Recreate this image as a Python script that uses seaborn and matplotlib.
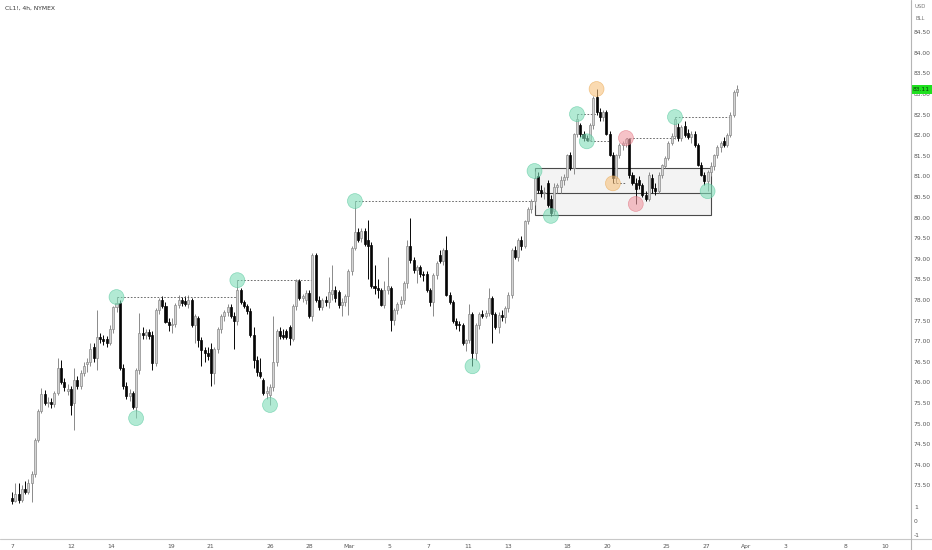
import numpy as np
import pandas as pd
import seaborn as sns
import matplotlib.pyplot as plt
from matplotlib.patches import Rectangle
from matplotlib.lines import Line2D
import matplotlib.transforms as mtransforms

# 1. Candle data (CL1!, 4h), one value per bar
opens = [73.20, 73.12, 73.30, 73.15, 73.42, 73.35, 73.55, 73.78, 74.60, 75.30,
         75.72, 75.50, 75.52, 75.48, 75.74, 76.35, 76.02, 75.80, 75.85,
         75.50, 76.06, 75.90, 76.23, 76.45, 76.50, 76.85, 76.58, 77.10,
         77.05, 77.05, 76.95, 77.30, 77.82, 77.92, 76.35, 75.92, 75.68, 75.75,
         75.40, 76.30, 77.20, 77.15, 77.22, 77.15, 76.48, 77.76, 78.00, 77.85,
         77.47, 77.40, 77.42, 77.88, 78.00, 77.98, 77.90, 78.00, 77.40,
         77.55, 77.03, 76.78, 76.70, 76.80, 76.22, 76.80, 77.30, 77.60, 77.70,
         77.82, 77.62, 77.50, 78.25, 77.95, 77.85, 77.72, 77.15, 76.55, 76.25,
         76.05, 75.75, 75.70, 75.88, 76.50, 77.25, 77.15, 77.25, 77.35, 77.05,
         77.85, 78.45, 78.05, 78.00, 78.18, 77.60, 79.10, 78.00, 77.82, 78.00,
         77.95, 78.15, 78.25, 78.20, 77.88, 77.95, 78.10, 78.70, 79.27, 79.65,
         79.50, 79.68, 79.45, 79.33, 78.33, 78.30, 78.25, 77.88, 78.25, 78.30,
         77.52, 77.75, 77.90, 78.00, 78.40, 79.30, 78.97, 78.72, 78.80, 78.62, 78.62,
         78.25, 77.95, 78.60, 79.10, 78.95, 79.20, 78.12, 77.95, 77.50, 77.40, 77.40,
         76.95, 77.02, 77.66, 76.70, 77.40, 77.66, 77.62, 77.68, 78.05, 77.66,
         77.35, 77.63, 77.58, 77.80, 78.12, 79.21, 79.05, 79.46, 79.30, 79.92,
         80.20, 80.40, 81.00, 80.67, 80.60, 80.85, 80.45, 80.15, 80.75, 80.75,
         80.91, 80.98, 81.52, 81.20, 82.02, 82.25, 82.02, 81.92, 81.88, 82.25,
         82.93, 82.55, 82.45, 82.55, 82.03, 81.52, 80.95, 81.52, 81.76, 81.80,
         81.90, 81.03, 80.85, 80.90, 80.78, 80.55, 80.45, 80.95, 80.72, 80.65,
         81.03, 81.25, 81.45, 81.82, 81.98, 82.20, 81.92, 82.22, 82.05, 81.95,
         82.02, 81.76, 81.28, 81.03, 80.88, 81.10, 81.25, 81.52, 81.70, 81.85,
         81.76, 82.00, 82.50, 83.05]
highs = [73.35, 73.55, 73.55, 73.50, 73.60, 73.65, 73.85, 74.65, 75.35, 75.86,
         75.82, 75.65, 75.62, 75.80, 76.59, 76.55, 76.10, 75.95, 75.90,
         76.35, 76.15, 76.30, 76.50, 76.60, 76.95, 76.95, 77.75, 77.20,
         77.15, 77.12, 77.40, 77.85, 78.07, 78.00, 76.45, 76.00, 75.85, 75.80,
         76.35, 77.68, 77.35, 77.30, 77.30, 77.25, 77.80, 78.05, 78.10, 77.95,
         77.55, 77.55, 77.92, 78.12, 78.08, 78.10, 78.12, 78.05, 77.65,
         77.60, 77.10, 76.85, 76.85, 76.95, 76.85, 77.35, 77.65, 77.75, 77.90,
         77.90, 77.70, 78.48, 78.30, 78.00, 77.90, 77.80, 77.35, 76.65, 76.60,
         76.10, 75.90, 75.95, 77.60, 77.30, 77.35, 77.30, 77.30, 77.40, 77.90,
         78.50, 78.50, 78.15, 78.25, 78.25, 79.15, 79.15, 78.10, 78.05, 78.10,
         78.55, 78.85, 78.35, 78.25, 78.05, 78.15, 78.75, 79.30, 80.40, 79.75,
         79.75, 79.75, 79.95, 79.40, 78.85, 78.50, 78.30, 78.45, 79.05, 78.35,
         77.80, 77.95, 78.10, 78.45, 79.45, 80.00, 79.05, 78.85, 78.85, 78.70, 78.70,
         78.30, 78.65, 78.95, 79.20, 79.25, 79.55, 78.20, 78.00, 77.55, 77.50, 77.45,
         77.05, 77.90, 77.70, 77.45, 77.70, 77.75, 77.75, 78.30, 78.10, 77.70,
         77.70, 77.75, 77.85, 78.20, 79.25, 79.30, 79.50, 79.55, 79.95, 80.25,
         80.45, 81.13, 81.10, 80.80, 80.75, 80.90, 80.55, 80.85, 80.85, 81.00,
         81.05, 81.55, 81.60, 82.05, 82.51, 82.30, 82.10, 82.00, 82.30, 82.95,
         83.12, 82.65, 82.60, 82.62, 82.10, 81.60, 81.55, 81.80, 81.85, 81.93,
         81.93, 81.10, 80.95, 81.00, 80.85, 80.65, 81.10, 81.05, 80.85, 81.10,
         81.30, 81.50, 81.85, 82.05, 82.44, 82.30, 82.25, 82.35, 82.15, 82.10,
         82.10, 81.80, 81.35, 81.10, 81.15, 81.35, 81.55, 81.75, 81.85, 81.95,
         82.05, 82.55, 83.10, 83.22]
lows = [73.05, 73.10, 73.08, 73.10, 73.30, 73.30, 73.10, 73.70, 74.55, 75.25,
        75.45, 75.40, 75.38, 75.40, 75.70, 75.95, 75.80, 75.70, 75.20,
        74.84, 75.85, 75.85, 76.15, 76.25, 76.40, 76.50, 76.30, 76.95,
        76.90, 76.85, 76.90, 77.20, 77.70, 76.30, 75.85, 75.60, 75.55, 75.35,
        75.13, 76.20, 77.05, 77.05, 77.05, 76.30, 76.40, 77.65, 77.80, 77.45,
        77.25, 77.20, 77.35, 77.80, 77.85, 77.85, 77.80, 77.35, 76.95,
        76.85, 76.40, 76.50, 76.55, 75.90, 75.96, 76.70, 77.20, 77.50, 77.60,
        77.55, 76.80, 77.40, 77.90, 77.80, 77.65, 77.10, 76.35, 76.15, 76.10,
        75.70, 75.60, 75.45, 75.80, 76.40, 77.05, 77.05, 77.05, 76.90, 77.00,
        77.75, 78.00, 77.95, 77.90, 77.55, 77.50, 77.95, 77.75, 77.75, 77.85,
        77.80, 78.00, 77.95, 77.80, 77.60, 77.85, 77.63, 78.60, 79.20, 79.40,
        79.40, 79.30, 78.50, 78.30, 78.15, 78.05, 77.85, 77.80, 78.15, 77.25,
        77.40, 77.65, 77.80, 77.90, 78.30, 78.90, 78.65, 78.40, 78.55, 78.45, 78.20,
        77.85, 77.60, 78.50, 78.90, 78.85, 78.10, 77.90, 77.45, 77.30, 77.25, 76.90,
        76.75, 76.95, 76.39, 76.55, 77.30, 77.55, 77.55, 77.60, 76.95, 77.30,
        77.20, 77.50, 77.45, 77.70, 78.05, 79.00, 78.95, 79.20, 79.25, 79.85,
        80.10, 80.30, 80.60, 80.50, 80.45, 80.25, 80.04, 80.05, 80.60, 80.60,
        80.80, 80.90, 81.15, 81.05, 81.95, 81.95, 81.85, 81.85, 81.85, 82.15,
        82.50, 82.35, 82.35, 82.00, 81.50, 80.83, 80.85, 81.45, 81.65, 81.70,
        80.95, 80.80, 80.33, 80.70, 80.50, 80.40, 80.40, 80.60, 80.55, 80.60,
        80.95, 81.20, 81.40, 81.75, 81.90, 81.85, 81.85, 81.95, 81.90, 81.80,
        81.72, 81.25, 81.00, 80.80, 80.64, 81.00, 81.15, 81.45, 81.60, 81.70,
        81.70, 81.95, 82.45, 82.95]
closes = [73.12, 73.30, 73.15, 73.42, 73.35, 73.55, 73.78, 74.60, 75.30, 75.72,
          75.50, 75.52, 75.48, 75.74, 76.35, 76.02, 75.88, 75.85, 75.45,
          76.06, 75.90, 76.23, 76.40, 76.50, 76.82, 76.58, 77.10, 77.05,
          77.00, 76.95, 77.30, 77.82, 77.92, 76.35, 75.92, 75.68, 75.75, 75.40,
          76.30, 77.20, 77.15, 77.22, 77.12, 76.48, 77.76, 78.00, 77.85, 77.47,
          77.40, 77.42, 77.88, 78.00, 77.92, 77.90, 78.00, 77.40, 77.60,
          77.03, 76.78, 76.70, 76.65, 76.22, 76.80, 77.30, 77.60, 77.70, 77.82,
          77.62, 77.50, 78.25, 77.95, 77.85, 77.72, 77.15, 76.55, 76.25, 76.15,
          75.75, 75.80, 75.88, 76.50, 77.25, 77.12, 77.10, 77.10, 77.08, 77.85,
          78.45, 78.05, 78.10, 78.18, 77.60, 79.10, 78.00, 77.82, 78.00, 77.95,
          78.20, 78.25, 78.05, 77.88, 77.95, 78.10, 78.70, 79.27, 79.65, 79.45,
          79.68, 79.35, 79.30, 78.33, 78.30, 78.25, 77.88, 78.25, 78.33, 77.52,
          77.75, 77.90, 78.00, 78.40, 79.30, 78.97, 78.72, 78.80, 78.62, 78.60, 78.25,
          77.95, 78.60, 78.90, 78.95, 79.20, 78.12, 77.95, 77.50, 77.40, 77.38, 76.95,
          77.02, 77.66, 76.70, 77.40, 77.66, 77.62, 77.68, 78.05, 77.66, 77.35,
          77.63, 77.58, 77.80, 78.12, 79.21, 79.05, 79.46, 79.30, 79.92, 80.20,
          80.40, 80.95, 80.67, 80.60, 80.62, 80.30, 80.12, 80.75, 80.80, 80.91,
          80.98, 81.52, 81.20, 82.02, 82.40, 82.02, 81.92, 81.88, 82.25, 82.90,
          82.55, 82.45, 82.55, 82.03, 81.52, 80.95, 81.52, 81.76, 81.80, 81.90,
          81.03, 80.85, 80.70, 80.78, 80.55, 80.45, 81.03, 80.72, 80.65, 81.03,
          81.28, 81.45, 81.82, 81.98, 82.40, 81.92, 82.20, 82.00, 81.95, 82.02,
          81.76, 81.28, 81.03, 80.88, 81.10, 81.25, 81.52, 81.70, 81.80, 81.76,
          82.00, 82.50, 83.05, 83.11]

# 2. Swing point markers (bar index, which end of the bar, colour group)
marker_idx = [32, 38, 69, 79, 105, 141, 160, 165, 173, 176, 179, 184, 188, 191, 203, 213]
marker_side = ['high', 'low', 'high', 'low', 'high', 'low', 'high', 'low',
               'high', 'low', 'high', 'low', 'high', 'low', 'high', 'low']
marker_kind = ['swing', 'swing', 'swing', 'swing', 'swing', 'swing', 'swing', 'swing',
               'swing', 'swing', 'major', 'major', 'fail', 'fail', 'swing', 'swing']

# dotted levels from a swing point to the bar that took it out
level_start = [32, 69, 105, 173, 176, 184, 188, 203]
level_end = [69, 92, 160, 179, 183, 188, 203, 220]
level_side = ['high', 'high', 'high', 'high', 'low', 'low', 'high', 'high']

# range box
box_start, box_end = 160, 214
box_low, box_mid, box_high = 80.06, 80.60, 81.20

# axis labels
price_ticks = [73.5, 74.0, 74.5, 75.0, 75.5, 76.0, 76.5, 77.0, 77.5, 78.0, 78.5,
               79.0, 79.5, 80.0, 80.5, 81.0, 81.5, 82.0, 82.5, 83.0, 83.5, 84.0, 84.5]
extra_ticks = [72.98, 72.64, 72.30]
extra_labels = ['1', '0', '-1']
date_days = [0, 3, 5, 8, 10, 13, 15, 17, 19, 21, 23, 25, 28, 30, 33, 35, 37, 39, 42, 44]
date_labels = ['7', '12', '14', '19', '21', '26', '28', 'Mar', '5', '7',
               '11', '13', '18', '20', '25', '27', 'Apr', '3', '8', '10']
last_price = 83.11

df = pd.DataFrame({'open': opens, 'high': highs, 'low': lows, 'close': closes})
df['x'] = np.arange(len(df))
df['up'] = df['close'] >= df['open']

sns.set_theme(style="white")
plt.rcParams['font.family'] = ['DejaVu Sans']

W, H = 932, 550
fig = plt.figure(figsize=(W / 100, H / 100), dpi=100)
ax = fig.add_axes([0, 11 / H, 911 / W, 539 / H])

up_c, up_edge, dn_c = '#d4d4d4', '#8a8a8a', '#050505'

# 3. Range box behind candles
ax.add_patch(Rectangle((box_start, box_low), box_end - box_start, box_high - box_low,
                       facecolor='#f3f3f3', edgecolor='#4a4a4a', linewidth=0.8, zorder=1))
ax.hlines(box_mid, box_start, box_end, color='#4a4a4a', linewidth=0.8, zorder=1)

# 4. Candles
for up, grp in df.groupby('up'):
    col = up_edge if up else dn_c
    ax.vlines(grp['x'], grp['low'], grp['high'], color=col, linewidth=0.7, zorder=2)
    body = (grp['close'] - grp['open']).abs().clip(lower=0.025)
    bottom = grp[['open', 'close']].min(axis=1)
    ax.bar(grp['x'], body, bottom=bottom, width=0.62,
           color=up_c if up else dn_c, edgecolor=col, linewidth=0.5, zorder=3)

# 5. Dotted levels
for s, e, side in zip(level_start, level_end, level_side):
    ax.hlines(df[side][s], s, e, color='#555555', linewidth=0.6,
              linestyles=(0, (2, 2)), zorder=2)

# 6. Swing markers
mk = pd.DataFrame({'x': marker_idx,
                   'y': [df[s][i] for i, s in zip(marker_idx, marker_side)],
                   'kind': marker_kind})
pal = {'swing': '#7fdcb8', 'major': '#f7c27e', 'fail': '#f09aa3'}
sns.scatterplot(data=mk, x='x', y='y', hue='kind', palette=pal, s=115, alpha=0.6,
                edgecolor='none', legend=False, ax=ax, zorder=4)
edge_pal = {'swing': '#4fc699', 'major': '#e9a64d', 'fail': '#e06d7b'}
ax.scatter(mk['x'], mk['y'], s=115, facecolors='none',
           edgecolors=[edge_pal[k] for k in mk['kind']], linewidths=0.5, alpha=0.6, zorder=4)

# 7. Axes
px_per_bar = 725 / (len(df) - 1)
bars_per_day = 19.84 / px_per_bar
ax.set_xlim(-12 / px_per_bar, (911 - 12) / px_per_bar)
ax.set_ylim(85.28 - 539 / 41.2, 85.28)
ax.set_xlabel('')
ax.set_ylabel('')
ax.yaxis.tick_right()
ax.set_yticks(price_ticks + extra_ticks)
ax.set_yticklabels([f'{p:.2f}' for p in price_ticks] + extra_labels)
ax.set_xticks([d * bars_per_day for d in date_days])
ax.set_xticklabels(date_labels)
ax.tick_params(axis='both', length=0, labelsize=4.3, colors='#555555')
ax.tick_params(axis='y', pad=2.2)
ax.tick_params(axis='x', pad=3.5)
for sp in ax.spines.values():
    sp.set_visible(False)

fig.add_artist(Line2D([0, 1], [11 / H, 11 / H], color='#c8c8c8', linewidth=0.8))
fig.add_artist(Line2D([911 / W, 911 / W], [0, 1], color='#b5b5b5', linewidth=0.8))

# 8. Labels
fig.text(5 / W, 1 - 8 / H, 'CL1!, 4h, NYMEX', fontsize=4.3, color='#333333', va='center')
fig.text(920 / W, 1 - 7 / H, 'USD', fontsize=3.8, color='#777777', ha='center', va='center')
fig.text(920 / W, 1 - 19 / H, 'BLL', fontsize=3.8, color='#777777', ha='center', va='center')
trans = mtransforms.blended_transform_factory(ax.transAxes, ax.transData)
ax.text(1.002, last_price, f'{last_price:.2f}', transform=trans, fontsize=4.3,
        color='#0b3d0b', va='center', ha='left', zorder=10, clip_on=False,
        bbox=dict(boxstyle='square,pad=0.35', facecolor='#1fe01f', edgecolor='none'))

fig.savefig('out.png', dpi=100)
plt.close(fig)
